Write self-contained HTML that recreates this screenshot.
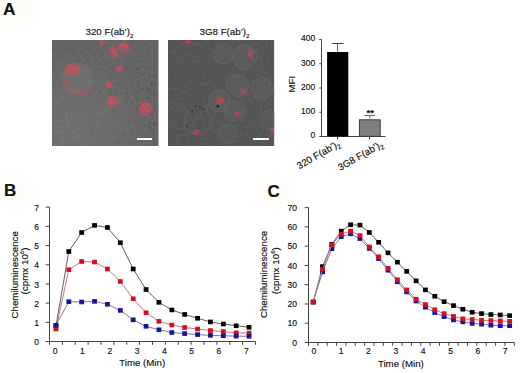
<!DOCTYPE html>
<html><head><meta charset="utf-8"><style>
html,body{margin:0;padding:0;background:#fff;}
svg{display:block;}
text{font-family:"Liberation Sans", sans-serif;fill:#111;stroke:#111;stroke-width:0.15px;}
</style></head><body>
<svg width="520" height="373" viewBox="0 0 520 373">
<rect width="520" height="373" fill="#fff"/>
<defs><filter id="tb" x="-50%" y="-50%" width="200%" height="200%"><feGaussianBlur stdDeviation="4"/></filter></defs>
<rect x="0" y="0" width="34" height="22" fill="#f8f3d6" opacity="0.28" filter="url(#tb)"/>
<rect x="0" y="178" width="30" height="26" fill="#f8f3d6" opacity="0.28" filter="url(#tb)"/>
<rect x="262" y="180" width="26" height="24" fill="#f8f3d6" opacity="0.28" filter="url(#tb)"/>
<text x="3" y="15.2" font-size="17.3" font-weight="bold">A</text>
<text x="4" y="196.3" font-size="17" font-weight="bold">B</text>
<text x="267.6" y="197.2" font-size="17" font-weight="bold">C</text>
<text x="85.5" y="35" font-size="9.75" text-anchor="start">320 F(ab’)<tspan font-size="6.14" dy="2.6">2</tspan></text>
<text x="199.5" y="35" font-size="9.75" text-anchor="start">3G8 F(ab’)<tspan font-size="6.14" dy="2.6">2</tspan></text>
<defs><clipPath id="c1"><rect x="52" y="40" width="106.7" height="106"/></clipPath><clipPath id="c2"><rect x="168" y="40" width="106.4" height="106"/></clipPath><filter id="bl" x="-50%" y="-50%" width="200%" height="200%"><feGaussianBlur stdDeviation="0.5"/></filter><filter id="bl2" x="-50%" y="-50%" width="200%" height="200%"><feGaussianBlur stdDeviation="1.0"/></filter><filter id="nz" x="0" y="0" width="100%" height="100%" color-interpolation-filters="sRGB"><feTurbulence type="fractalNoise" baseFrequency="0.35" numOctaves="2" seed="5"/><feColorMatrix type="matrix" values="1 0 0 0 0  1 0 0 0 0  1 0 0 0 0  0 0 0 0 0.07"/></filter></defs>
<g clip-path="url(#c1)">
<defs><radialGradient id="g1" cx="0.2" cy="0.85" r="0.75"><stop offset="0" stop-color="#6f6f6f"/><stop offset="0.55" stop-color="#6a6a6a"/><stop offset="1" stop-color="#626262"/></radialGradient></defs>
<rect x="52" y="40" width="106.7" height="106" fill="url(#g1)"/>
<rect x="52" y="40" width="106.7" height="106" filter="url(#nz)"/>
<g filter="url(#bl)">
<circle cx="77.5" cy="78.4" r="15.6" fill="#737a74" opacity="0.4"/><circle cx="77.5" cy="78.4" r="15.6" fill="none" stroke="#8a8a8a" stroke-width="1" opacity="0.12"/><circle cx="77.5" cy="78.4" r="14.4" fill="none" stroke="#4a4a4a" stroke-width="0.8" opacity="0.12"/>
<circle cx="114" cy="50" r="13" fill="#6c6c6c" opacity="0.4"/><circle cx="114" cy="50" r="13" fill="none" stroke="#8a8a8a" stroke-width="1" opacity="0.08"/><circle cx="114" cy="50" r="11.8" fill="none" stroke="#4a4a4a" stroke-width="0.8" opacity="0.1"/>
<circle cx="113" cy="100" r="12.5" fill="#6c6c6c" opacity="0.4"/><circle cx="113" cy="100" r="12.5" fill="none" stroke="#8a8a8a" stroke-width="1" opacity="0.08"/><circle cx="113" cy="100" r="11.3" fill="none" stroke="#4a4a4a" stroke-width="0.8" opacity="0.1"/>
<circle cx="146" cy="109" r="13" fill="#6a6a6a" opacity="0.4"/><circle cx="146" cy="109" r="13" fill="none" stroke="#8a8a8a" stroke-width="1" opacity="0.08"/><circle cx="146" cy="109" r="11.8" fill="none" stroke="#4a4a4a" stroke-width="0.8" opacity="0.1"/>
<circle cx="142.45" cy="74.50" r="0.73" fill="#2a2a2a" opacity="0.45"/><circle cx="136.67" cy="98.76" r="0.58" fill="#2a2a2a" opacity="0.45"/><circle cx="136.33" cy="96.97" r="0.42" fill="#2a2a2a" opacity="0.45"/><circle cx="144.97" cy="69.40" r="0.45" fill="#2a2a2a" opacity="0.45"/><circle cx="144.76" cy="117.09" r="0.46" fill="#2a2a2a" opacity="0.45"/><circle cx="140.13" cy="104.53" r="0.87" fill="#2a2a2a" opacity="0.45"/><circle cx="148.27" cy="89.99" r="0.89" fill="#2a2a2a" opacity="0.45"/><circle cx="136.07" cy="119.08" r="0.54" fill="#2a2a2a" opacity="0.45"/><circle cx="138.32" cy="72.42" r="0.55" fill="#2a2a2a" opacity="0.45"/><circle cx="153.77" cy="76.39" r="0.69" fill="#2a2a2a" opacity="0.45"/><circle cx="149.70" cy="88.46" r="0.67" fill="#2a2a2a" opacity="0.45"/><circle cx="136.44" cy="68.75" r="0.50" fill="#2a2a2a" opacity="0.45"/><circle cx="150.65" cy="91.94" r="0.56" fill="#2a2a2a" opacity="0.45"/><circle cx="148.47" cy="93.55" r="0.55" fill="#2a2a2a" opacity="0.45"/><circle cx="153.27" cy="109.04" r="0.52" fill="#2a2a2a" opacity="0.45"/><circle cx="148.21" cy="98.09" r="0.84" fill="#2a2a2a" opacity="0.45"/><circle cx="151.78" cy="83.14" r="0.89" fill="#2a2a2a" opacity="0.45"/><circle cx="137.72" cy="91.34" r="0.78" fill="#2a2a2a" opacity="0.45"/><circle cx="138.50" cy="95.80" r="0.42" fill="#2a2a2a" opacity="0.45"/><circle cx="150.37" cy="113.17" r="0.69" fill="#2a2a2a" opacity="0.45"/><circle cx="155.14" cy="84.77" r="0.75" fill="#2a2a2a" opacity="0.45"/><circle cx="148.67" cy="101.53" r="0.63" fill="#2a2a2a" opacity="0.45"/><circle cx="154.32" cy="124.51" r="0.64" fill="#2a2a2a" opacity="0.45"/><circle cx="150.28" cy="68.82" r="0.75" fill="#2a2a2a" opacity="0.45"/><circle cx="149.88" cy="127.57" r="0.81" fill="#2a2a2a" opacity="0.45"/><circle cx="141.55" cy="89.30" r="0.73" fill="#2a2a2a" opacity="0.45"/><circle cx="135.52" cy="94.09" r="0.48" fill="#2a2a2a" opacity="0.45"/><circle cx="137.69" cy="68.71" r="0.78" fill="#2a2a2a" opacity="0.45"/><circle cx="137.97" cy="80.60" r="0.60" fill="#2a2a2a" opacity="0.45"/><circle cx="155.04" cy="70.08" r="0.62" fill="#2a2a2a" opacity="0.45"/>
<circle cx="116.98" cy="93.59" r="0.81" fill="#2a2a2a" opacity="0.3"/><circle cx="129.56" cy="60.31" r="0.61" fill="#2a2a2a" opacity="0.3"/><circle cx="109.35" cy="93.63" r="0.88" fill="#2a2a2a" opacity="0.3"/><circle cx="101.04" cy="54.69" r="0.52" fill="#2a2a2a" opacity="0.3"/><circle cx="104.33" cy="71.67" r="0.69" fill="#2a2a2a" opacity="0.3"/><circle cx="105.51" cy="45.23" r="0.61" fill="#2a2a2a" opacity="0.3"/><circle cx="109.77" cy="76.15" r="0.88" fill="#2a2a2a" opacity="0.3"/><circle cx="122.62" cy="73.35" r="0.71" fill="#2a2a2a" opacity="0.3"/><circle cx="122.05" cy="47.97" r="0.85" fill="#2a2a2a" opacity="0.3"/><circle cx="126.20" cy="93.10" r="0.80" fill="#2a2a2a" opacity="0.3"/><circle cx="110.70" cy="66.94" r="0.45" fill="#2a2a2a" opacity="0.3"/><circle cx="120.37" cy="48.42" r="0.43" fill="#2a2a2a" opacity="0.3"/><circle cx="103.35" cy="53.93" r="0.57" fill="#2a2a2a" opacity="0.3"/><circle cx="97.10" cy="45.01" r="0.48" fill="#2a2a2a" opacity="0.3"/><circle cx="99.06" cy="65.00" r="0.41" fill="#2a2a2a" opacity="0.3"/><circle cx="129.97" cy="78.77" r="0.47" fill="#2a2a2a" opacity="0.3"/><circle cx="105.09" cy="64.11" r="0.58" fill="#2a2a2a" opacity="0.3"/><circle cx="99.91" cy="91.69" r="0.90" fill="#2a2a2a" opacity="0.3"/><circle cx="113.64" cy="71.61" r="0.44" fill="#2a2a2a" opacity="0.3"/><circle cx="99.09" cy="63.84" r="0.53" fill="#2a2a2a" opacity="0.3"/>
<ellipse cx="72.4" cy="69.8" rx="7.02" ry="5.58" fill="#e04858" opacity="0.41" filter="url(#bl2)"/><circle cx="77.53" cy="65.60" r="0.62" fill="#e04858" opacity="0.44"/><circle cx="79.44" cy="70.15" r="0.73" fill="#e04858" opacity="0.44"/><circle cx="73.07" cy="63.94" r="1.08" fill="#e04858" opacity="0.44"/><circle cx="75.46" cy="66.84" r="0.93" fill="#e04858" opacity="0.44"/><circle cx="67.21" cy="73.17" r="1.08" fill="#e04858" opacity="0.44"/><circle cx="76.75" cy="67.69" r="0.80" fill="#e04858" opacity="0.44"/><circle cx="77.90" cy="73.60" r="1.34" fill="#e04858" opacity="0.44"/><circle cx="76.14" cy="66.41" r="1.07" fill="#e04858" opacity="0.44"/><circle cx="70.15" cy="63.96" r="0.63" fill="#e04858" opacity="0.44"/><circle cx="68.96" cy="66.81" r="1.22" fill="#e04858" opacity="0.44"/><circle cx="79.52" cy="69.15" r="1.44" fill="#e04858" opacity="0.44"/><circle cx="70.29" cy="66.33" r="0.80" fill="#e04858" opacity="0.44"/><circle cx="67.67" cy="66.13" r="1.16" fill="#e04858" opacity="0.44"/><circle cx="72.08" cy="71.70" r="1.32" fill="#e04858" opacity="0.44"/><circle cx="65.92" cy="71.79" r="1.42" fill="#e04858" opacity="0.44"/><circle cx="76.80" cy="72.90" r="1.03" fill="#e04858" opacity="0.44"/><circle cx="67.38" cy="73.39" r="0.90" fill="#e04858" opacity="0.44"/><circle cx="70.78" cy="68.58" r="1.45" fill="#e04858" opacity="0.44"/><circle cx="75.91" cy="65.71" r="0.71" fill="#e04858" opacity="0.44"/><circle cx="77.18" cy="65.41" r="1.34" fill="#e04858" opacity="0.44"/><circle cx="70.07" cy="70.40" r="0.72" fill="#e04858" opacity="0.44"/><circle cx="74.73" cy="70.13" r="1.44" fill="#e04858" opacity="0.44"/><circle cx="71.37" cy="74.41" r="1.34" fill="#e04858" opacity="0.44"/><circle cx="67.89" cy="66.72" r="0.86" fill="#e04858" opacity="0.44"/><circle cx="68.35" cy="70.87" r="0.83" fill="#e04858" opacity="0.44"/><circle cx="71.14" cy="65.23" r="1.42" fill="#e04858" opacity="0.44"/><circle cx="70.12" cy="69.28" r="1.13" fill="#e04858" opacity="0.44"/><circle cx="78.71" cy="68.82" r="1.43" fill="#e04858" opacity="0.44"/><circle cx="72.43" cy="70.19" r="1.07" fill="#e04858" opacity="0.44"/><circle cx="64.89" cy="69.06" r="0.76" fill="#e04858" opacity="0.44"/><circle cx="67.29" cy="69.47" r="1.25" fill="#e04858" opacity="0.44"/><circle cx="73.28" cy="67.64" r="1.07" fill="#e04858" opacity="0.44"/><circle cx="73.26" cy="73.32" r="0.70" fill="#e04858" opacity="0.44"/><circle cx="73.34" cy="66.68" r="0.85" fill="#e04858" opacity="0.44"/><circle cx="76.65" cy="69.90" r="1.11" fill="#e04858" opacity="0.44"/><circle cx="76.46" cy="74.91" r="1.00" fill="#e04858" opacity="0.44"/><circle cx="74.16" cy="69.87" r="1.06" fill="#e04858" opacity="0.44"/><circle cx="75.41" cy="69.21" r="1.08" fill="#e04858" opacity="0.44"/><circle cx="72.06" cy="75.27" r="1.23" fill="#e04858" opacity="0.44"/><circle cx="68.65" cy="70.54" r="1.45" fill="#e04858" opacity="0.44"/><circle cx="77.70" cy="65.30" r="0.71" fill="#e04858" opacity="0.44"/><circle cx="71.50" cy="64.50" r="0.82" fill="#e04858" opacity="0.44"/><circle cx="65.74" cy="71.90" r="1.31" fill="#e04858" opacity="0.44"/><circle cx="75.77" cy="71.79" r="0.73" fill="#e04858" opacity="0.44"/>
<ellipse cx="66" cy="85" rx="1.80" ry="1.44" fill="#e8404c" opacity="0.45" filter="url(#bl2)"/><circle cx="65.59" cy="84.96" r="0.90" fill="#e8404c" opacity="0.48"/><circle cx="67.33" cy="83.92" r="0.73" fill="#e8404c" opacity="0.48"/><circle cx="66.06" cy="84.49" r="0.66" fill="#e8404c" opacity="0.48"/><circle cx="65.27" cy="85.71" r="0.61" fill="#e8404c" opacity="0.48"/>
<ellipse cx="70" cy="89" rx="1.80" ry="1.44" fill="#e8404c" opacity="0.45" filter="url(#bl2)"/><circle cx="70.22" cy="88.81" r="0.61" fill="#e8404c" opacity="0.48"/><circle cx="69.33" cy="89.40" r="0.75" fill="#e8404c" opacity="0.48"/><circle cx="68.42" cy="88.25" r="0.61" fill="#e8404c" opacity="0.48"/><circle cx="71.12" cy="88.27" r="0.64" fill="#e8404c" opacity="0.48"/>
<ellipse cx="75" cy="92" rx="1.80" ry="1.44" fill="#e8404c" opacity="0.45" filter="url(#bl2)"/><circle cx="74.69" cy="93.32" r="0.85" fill="#e8404c" opacity="0.48"/><circle cx="74.03" cy="90.88" r="0.88" fill="#e8404c" opacity="0.48"/><circle cx="75.28" cy="92.64" r="0.63" fill="#e8404c" opacity="0.48"/><circle cx="73.23" cy="92.60" r="0.73" fill="#e8404c" opacity="0.48"/>
<ellipse cx="80" cy="93" rx="1.80" ry="1.44" fill="#e8404c" opacity="0.45" filter="url(#bl2)"/><circle cx="80.54" cy="93.97" r="0.63" fill="#e8404c" opacity="0.48"/><circle cx="81.45" cy="92.85" r="0.70" fill="#e8404c" opacity="0.48"/><circle cx="80.21" cy="94.37" r="0.68" fill="#e8404c" opacity="0.48"/><circle cx="78.52" cy="93.09" r="0.67" fill="#e8404c" opacity="0.48"/>
<ellipse cx="85" cy="91" rx="1.80" ry="1.44" fill="#e8404c" opacity="0.45" filter="url(#bl2)"/><circle cx="84.25" cy="90.38" r="0.83" fill="#e8404c" opacity="0.48"/><circle cx="84.16" cy="91.00" r="0.65" fill="#e8404c" opacity="0.48"/><circle cx="85.93" cy="91.16" r="0.66" fill="#e8404c" opacity="0.48"/><circle cx="84.90" cy="92.39" r="0.63" fill="#e8404c" opacity="0.48"/>
<ellipse cx="89" cy="88" rx="1.80" ry="1.44" fill="#e8404c" opacity="0.45" filter="url(#bl2)"/><circle cx="90.28" cy="87.78" r="0.75" fill="#e8404c" opacity="0.48"/><circle cx="90.34" cy="87.66" r="0.75" fill="#e8404c" opacity="0.48"/><circle cx="88.37" cy="89.06" r="0.81" fill="#e8404c" opacity="0.48"/><circle cx="89.54" cy="87.70" r="0.70" fill="#e8404c" opacity="0.48"/>
<ellipse cx="68" cy="80" rx="1.80" ry="1.44" fill="#e8404c" opacity="0.45" filter="url(#bl2)"/><circle cx="66.28" cy="80.77" r="0.68" fill="#e8404c" opacity="0.48"/><circle cx="68.68" cy="79.30" r="0.67" fill="#e8404c" opacity="0.48"/><circle cx="67.17" cy="79.87" r="0.65" fill="#e8404c" opacity="0.48"/><circle cx="67.78" cy="79.24" r="0.89" fill="#e8404c" opacity="0.48"/>
<ellipse cx="102.4" cy="42.4" rx="2.34" ry="1.98" fill="#e04858" opacity="0.41" filter="url(#bl2)"/><circle cx="104.86" cy="42.61" r="0.80" fill="#e04858" opacity="0.44"/><circle cx="101.78" cy="42.29" r="1.00" fill="#e04858" opacity="0.44"/><circle cx="100.85" cy="42.42" r="0.60" fill="#e04858" opacity="0.44"/><circle cx="101.17" cy="40.59" r="0.92" fill="#e04858" opacity="0.44"/><circle cx="101.38" cy="41.22" r="1.07" fill="#e04858" opacity="0.44"/><circle cx="102.55" cy="43.50" r="1.13" fill="#e04858" opacity="0.44"/><circle cx="103.52" cy="44.07" r="0.91" fill="#e04858" opacity="0.44"/><circle cx="100.58" cy="43.39" r="1.11" fill="#e04858" opacity="0.44"/>
<ellipse cx="113" cy="50.5" rx="3.60" ry="3.42" fill="#e04858" opacity="0.41" filter="url(#bl2)"/><circle cx="116.14" cy="51.47" r="1.19" fill="#e04858" opacity="0.44"/><circle cx="115.50" cy="47.76" r="1.02" fill="#e04858" opacity="0.44"/><circle cx="113.03" cy="53.05" r="1.24" fill="#e04858" opacity="0.44"/><circle cx="115.61" cy="51.14" r="1.31" fill="#e04858" opacity="0.44"/><circle cx="114.46" cy="51.97" r="0.78" fill="#e04858" opacity="0.44"/><circle cx="111.89" cy="47.50" r="1.27" fill="#e04858" opacity="0.44"/><circle cx="113.47" cy="51.47" r="1.10" fill="#e04858" opacity="0.44"/><circle cx="114.45" cy="50.42" r="0.60" fill="#e04858" opacity="0.44"/><circle cx="115.38" cy="52.39" r="1.00" fill="#e04858" opacity="0.44"/><circle cx="113.28" cy="51.71" r="0.65" fill="#e04858" opacity="0.44"/><circle cx="114.89" cy="48.62" r="0.66" fill="#e04858" opacity="0.44"/><circle cx="111.12" cy="52.24" r="0.76" fill="#e04858" opacity="0.44"/><circle cx="112.95" cy="49.61" r="0.98" fill="#e04858" opacity="0.44"/><circle cx="114.47" cy="52.53" r="1.09" fill="#e04858" opacity="0.44"/><circle cx="114.14" cy="47.29" r="0.72" fill="#e04858" opacity="0.44"/><circle cx="111.03" cy="52.35" r="0.84" fill="#e04858" opacity="0.44"/>
<ellipse cx="115.3" cy="55.8" rx="2.16" ry="2.16" fill="#e04858" opacity="0.41" filter="url(#bl2)"/><circle cx="115.63" cy="53.46" r="0.65" fill="#e04858" opacity="0.44"/><circle cx="114.19" cy="56.63" r="1.15" fill="#e04858" opacity="0.44"/><circle cx="116.14" cy="54.80" r="1.01" fill="#e04858" opacity="0.44"/><circle cx="115.13" cy="55.64" r="0.69" fill="#e04858" opacity="0.44"/><circle cx="117.19" cy="54.36" r="1.38" fill="#e04858" opacity="0.44"/><circle cx="115.10" cy="57.34" r="1.37" fill="#e04858" opacity="0.44"/><circle cx="115.06" cy="54.69" r="0.77" fill="#e04858" opacity="0.44"/>
<ellipse cx="123.8" cy="47.5" rx="4.68" ry="4.86" fill="#e04858" opacity="0.41" filter="url(#bl2)"/><circle cx="124.65" cy="43.63" r="1.02" fill="#e04858" opacity="0.44"/><circle cx="127.13" cy="47.59" r="1.31" fill="#e04858" opacity="0.44"/><circle cx="125.91" cy="44.60" r="1.32" fill="#e04858" opacity="0.44"/><circle cx="123.66" cy="42.37" r="0.60" fill="#e04858" opacity="0.44"/><circle cx="123.71" cy="46.97" r="0.84" fill="#e04858" opacity="0.44"/><circle cx="120.06" cy="45.81" r="0.85" fill="#e04858" opacity="0.44"/><circle cx="126.41" cy="51.16" r="0.70" fill="#e04858" opacity="0.44"/><circle cx="128.23" cy="49.80" r="1.32" fill="#e04858" opacity="0.44"/><circle cx="121.61" cy="46.12" r="0.91" fill="#e04858" opacity="0.44"/><circle cx="122.35" cy="46.72" r="0.82" fill="#e04858" opacity="0.44"/><circle cx="127.28" cy="45.18" r="1.35" fill="#e04858" opacity="0.44"/><circle cx="121.19" cy="44.97" r="1.01" fill="#e04858" opacity="0.44"/><circle cx="120.57" cy="46.13" r="1.36" fill="#e04858" opacity="0.44"/><circle cx="127.80" cy="50.87" r="1.10" fill="#e04858" opacity="0.44"/><circle cx="124.31" cy="49.87" r="0.64" fill="#e04858" opacity="0.44"/><circle cx="126.22" cy="46.97" r="1.20" fill="#e04858" opacity="0.44"/><circle cx="125.30" cy="45.19" r="0.64" fill="#e04858" opacity="0.44"/><circle cx="123.51" cy="45.81" r="0.84" fill="#e04858" opacity="0.44"/><circle cx="121.31" cy="49.18" r="0.84" fill="#e04858" opacity="0.44"/><circle cx="124.40" cy="46.36" r="0.73" fill="#e04858" opacity="0.44"/><circle cx="120.28" cy="44.35" r="1.32" fill="#e04858" opacity="0.44"/><circle cx="123.77" cy="44.48" r="1.33" fill="#e04858" opacity="0.44"/>
<ellipse cx="119.3" cy="69" rx="3.06" ry="2.88" fill="#e04858" opacity="0.41" filter="url(#bl2)"/><circle cx="122.68" cy="68.68" r="0.71" fill="#e04858" opacity="0.44"/><circle cx="118.23" cy="66.38" r="0.79" fill="#e04858" opacity="0.44"/><circle cx="117.66" cy="69.45" r="1.31" fill="#e04858" opacity="0.44"/><circle cx="121.00" cy="68.44" r="0.93" fill="#e04858" opacity="0.44"/><circle cx="119.46" cy="68.21" r="0.87" fill="#e04858" opacity="0.44"/><circle cx="116.32" cy="67.58" r="1.37" fill="#e04858" opacity="0.44"/><circle cx="116.76" cy="69.02" r="1.10" fill="#e04858" opacity="0.44"/><circle cx="121.77" cy="67.18" r="0.82" fill="#e04858" opacity="0.44"/><circle cx="117.59" cy="68.36" r="0.96" fill="#e04858" opacity="0.44"/><circle cx="121.99" cy="68.83" r="1.07" fill="#e04858" opacity="0.44"/><circle cx="117.59" cy="66.50" r="0.72" fill="#e04858" opacity="0.44"/><circle cx="119.45" cy="70.17" r="1.35" fill="#e04858" opacity="0.44"/>
<ellipse cx="108.8" cy="84.5" rx="2.88" ry="2.88" fill="#e04858" opacity="0.41" filter="url(#bl2)"/><circle cx="110.22" cy="85.44" r="1.21" fill="#e04858" opacity="0.44"/><circle cx="108.53" cy="84.83" r="0.63" fill="#e04858" opacity="0.44"/><circle cx="110.61" cy="82.79" r="1.34" fill="#e04858" opacity="0.44"/><circle cx="109.73" cy="83.24" r="0.70" fill="#e04858" opacity="0.44"/><circle cx="107.21" cy="85.37" r="1.16" fill="#e04858" opacity="0.44"/><circle cx="108.96" cy="85.03" r="0.91" fill="#e04858" opacity="0.44"/><circle cx="107.03" cy="85.15" r="0.61" fill="#e04858" opacity="0.44"/><circle cx="107.53" cy="84.25" r="1.37" fill="#e04858" opacity="0.44"/><circle cx="109.73" cy="86.96" r="0.98" fill="#e04858" opacity="0.44"/><circle cx="107.10" cy="82.88" r="1.37" fill="#e04858" opacity="0.44"/><circle cx="110.11" cy="83.27" r="0.62" fill="#e04858" opacity="0.44"/>
<ellipse cx="113" cy="101" rx="5.22" ry="4.50" fill="#e04858" opacity="0.41" filter="url(#bl2)"/><circle cx="112.98" cy="102.74" r="0.94" fill="#e04858" opacity="0.44"/><circle cx="110.18" cy="102.67" r="1.34" fill="#e04858" opacity="0.44"/><circle cx="111.12" cy="100.21" r="1.15" fill="#e04858" opacity="0.44"/><circle cx="109.50" cy="103.97" r="1.19" fill="#e04858" opacity="0.44"/><circle cx="113.06" cy="98.05" r="1.38" fill="#e04858" opacity="0.44"/><circle cx="110.82" cy="104.20" r="0.78" fill="#e04858" opacity="0.44"/><circle cx="109.77" cy="103.60" r="0.84" fill="#e04858" opacity="0.44"/><circle cx="118.24" cy="100.96" r="0.75" fill="#e04858" opacity="0.44"/><circle cx="109.79" cy="100.17" r="1.13" fill="#e04858" opacity="0.44"/><circle cx="111.76" cy="98.13" r="1.38" fill="#e04858" opacity="0.44"/><circle cx="107.90" cy="99.93" r="1.32" fill="#e04858" opacity="0.44"/><circle cx="117.45" cy="103.33" r="1.40" fill="#e04858" opacity="0.44"/><circle cx="118.01" cy="99.29" r="0.75" fill="#e04858" opacity="0.44"/><circle cx="107.57" cy="102.64" r="0.90" fill="#e04858" opacity="0.44"/><circle cx="111.54" cy="99.32" r="0.74" fill="#e04858" opacity="0.44"/><circle cx="111.28" cy="105.56" r="0.70" fill="#e04858" opacity="0.44"/><circle cx="111.34" cy="104.22" r="1.26" fill="#e04858" opacity="0.44"/><circle cx="112.22" cy="96.49" r="0.98" fill="#e04858" opacity="0.44"/><circle cx="111.52" cy="105.20" r="0.75" fill="#e04858" opacity="0.44"/><circle cx="111.43" cy="104.97" r="0.62" fill="#e04858" opacity="0.44"/><circle cx="111.97" cy="104.12" r="1.21" fill="#e04858" opacity="0.44"/><circle cx="110.18" cy="103.47" r="1.32" fill="#e04858" opacity="0.44"/><circle cx="111.13" cy="98.72" r="1.37" fill="#e04858" opacity="0.44"/><circle cx="114.36" cy="98.62" r="1.17" fill="#e04858" opacity="0.44"/><circle cx="110.87" cy="98.76" r="0.60" fill="#e04858" opacity="0.44"/><circle cx="115.97" cy="105.16" r="1.11" fill="#e04858" opacity="0.44"/><circle cx="109.91" cy="100.75" r="1.37" fill="#e04858" opacity="0.44"/><circle cx="118.27" cy="99.87" r="0.80" fill="#e04858" opacity="0.44"/>
<ellipse cx="145.7" cy="108.5" rx="6.12" ry="6.48" fill="#e04858" opacity="0.41" filter="url(#bl2)"/><circle cx="144.75" cy="108.41" r="1.34" fill="#e04858" opacity="0.44"/><circle cx="141.39" cy="112.86" r="1.19" fill="#e04858" opacity="0.44"/><circle cx="150.09" cy="112.43" r="1.09" fill="#e04858" opacity="0.44"/><circle cx="143.36" cy="105.90" r="0.89" fill="#e04858" opacity="0.44"/><circle cx="141.58" cy="112.14" r="0.80" fill="#e04858" opacity="0.44"/><circle cx="146.42" cy="105.99" r="1.38" fill="#e04858" opacity="0.44"/><circle cx="142.50" cy="102.51" r="0.68" fill="#e04858" opacity="0.44"/><circle cx="145.68" cy="111.52" r="0.96" fill="#e04858" opacity="0.44"/><circle cx="142.09" cy="107.30" r="1.10" fill="#e04858" opacity="0.44"/><circle cx="148.07" cy="112.07" r="1.28" fill="#e04858" opacity="0.44"/><circle cx="147.94" cy="103.04" r="1.27" fill="#e04858" opacity="0.44"/><circle cx="142.90" cy="109.46" r="0.90" fill="#e04858" opacity="0.44"/><circle cx="148.94" cy="104.17" r="0.80" fill="#e04858" opacity="0.44"/><circle cx="142.24" cy="103.51" r="1.31" fill="#e04858" opacity="0.44"/><circle cx="146.76" cy="106.00" r="0.92" fill="#e04858" opacity="0.44"/><circle cx="152.40" cy="108.61" r="0.79" fill="#e04858" opacity="0.44"/><circle cx="149.89" cy="110.71" r="1.39" fill="#e04858" opacity="0.44"/><circle cx="140.29" cy="108.14" r="1.26" fill="#e04858" opacity="0.44"/><circle cx="140.52" cy="104.03" r="1.38" fill="#e04858" opacity="0.44"/><circle cx="146.83" cy="114.69" r="0.90" fill="#e04858" opacity="0.44"/><circle cx="150.68" cy="107.77" r="0.81" fill="#e04858" opacity="0.44"/><circle cx="140.34" cy="109.88" r="1.10" fill="#e04858" opacity="0.44"/><circle cx="141.86" cy="106.61" r="0.71" fill="#e04858" opacity="0.44"/><circle cx="141.67" cy="104.97" r="1.08" fill="#e04858" opacity="0.44"/><circle cx="147.76" cy="104.23" r="0.61" fill="#e04858" opacity="0.44"/><circle cx="143.35" cy="111.07" r="0.75" fill="#e04858" opacity="0.44"/><circle cx="143.15" cy="104.23" r="1.24" fill="#e04858" opacity="0.44"/><circle cx="146.35" cy="102.21" r="0.68" fill="#e04858" opacity="0.44"/><circle cx="144.28" cy="109.22" r="1.11" fill="#e04858" opacity="0.44"/><circle cx="148.36" cy="107.20" r="0.83" fill="#e04858" opacity="0.44"/><circle cx="143.08" cy="115.03" r="0.85" fill="#e04858" opacity="0.44"/><circle cx="146.60" cy="106.44" r="0.93" fill="#e04858" opacity="0.44"/><circle cx="143.85" cy="104.14" r="1.18" fill="#e04858" opacity="0.44"/><circle cx="151.16" cy="107.40" r="1.26" fill="#e04858" opacity="0.44"/><circle cx="144.42" cy="114.01" r="0.97" fill="#e04858" opacity="0.44"/><circle cx="146.40" cy="110.53" r="1.33" fill="#e04858" opacity="0.44"/>
</g>
<rect x="137" y="138" width="15" height="2" fill="#fff"/>
</g>
<g clip-path="url(#c2)">
<rect x="168" y="40" width="106.4" height="106" fill="#535353"/>
<rect x="168" y="40" width="106.4" height="106" filter="url(#nz)"/>
<g filter="url(#bl)">
<circle cx="223.4" cy="54.2" r="9.975" fill="#6a6a6a" opacity="0.315"/><circle cx="223.4" cy="54.2" r="9.975" fill="none" stroke="#8a8a8a" stroke-width="1" opacity="0.2"/><circle cx="223.4" cy="54.2" r="8.775" fill="none" stroke="#4a4a4a" stroke-width="0.8" opacity="0.2"/>
<circle cx="244.7" cy="57" r="12.16" fill="#6a6a6a" opacity="0.36000000000000004"/><circle cx="244.7" cy="57" r="12.16" fill="none" stroke="#8a8a8a" stroke-width="1" opacity="0.2"/><circle cx="244.7" cy="57" r="10.96" fill="none" stroke="#4a4a4a" stroke-width="0.8" opacity="0.2"/>
<circle cx="237.6" cy="85.5" r="10.83" fill="#6a6a6a" opacity="0.36000000000000004"/><circle cx="237.6" cy="85.5" r="10.83" fill="none" stroke="#8a8a8a" stroke-width="1" opacity="0.2"/><circle cx="237.6" cy="85.5" r="9.63" fill="none" stroke="#4a4a4a" stroke-width="0.8" opacity="0.2"/>
<circle cx="261.8" cy="88.3" r="10.83" fill="#686868" opacity="0.315"/><circle cx="261.8" cy="88.3" r="10.83" fill="none" stroke="#8a8a8a" stroke-width="1" opacity="0.2"/><circle cx="261.8" cy="88.3" r="9.63" fill="none" stroke="#4a4a4a" stroke-width="0.8" opacity="0.2"/>
<circle cx="219.2" cy="101" r="10.83" fill="#666a6a" opacity="0.36000000000000004"/><circle cx="219.2" cy="101" r="10.83" fill="none" stroke="#8a8a8a" stroke-width="1" opacity="0.2"/><circle cx="219.2" cy="101" r="9.63" fill="none" stroke="#4a4a4a" stroke-width="0.8" opacity="0.2"/>
<circle cx="234.8" cy="111" r="10.26" fill="#6a6a6a" opacity="0.36000000000000004"/><circle cx="234.8" cy="111" r="10.26" fill="none" stroke="#8a8a8a" stroke-width="1" opacity="0.2"/><circle cx="234.8" cy="111" r="9.06" fill="none" stroke="#4a4a4a" stroke-width="0.8" opacity="0.2"/>
<circle cx="197.8" cy="121" r="13.299999999999999" fill="#585858" opacity="0.36000000000000004"/><circle cx="197.8" cy="121" r="13.299999999999999" fill="none" stroke="#8a8a8a" stroke-width="1" opacity="0.2"/><circle cx="197.8" cy="121" r="12.1" fill="none" stroke="#4a4a4a" stroke-width="0.8" opacity="0.2"/>
<circle cx="227.7" cy="134" r="9.5" fill="#646464" opacity="0.27"/><circle cx="227.7" cy="134" r="9.5" fill="none" stroke="#8a8a8a" stroke-width="1" opacity="0.2"/><circle cx="227.7" cy="134" r="8.3" fill="none" stroke="#4a4a4a" stroke-width="0.8" opacity="0.2"/>
<circle cx="270" cy="120" r="9.5" fill="#646464" opacity="0.225"/><circle cx="270" cy="120" r="9.5" fill="none" stroke="#8a8a8a" stroke-width="1" opacity="0.2"/><circle cx="270" cy="120" r="8.3" fill="none" stroke="#4a4a4a" stroke-width="0.8" opacity="0.2"/>
<circle cx="189.78" cy="122.44" r="0.59" fill="#222" opacity="0.4"/><circle cx="198.09" cy="112.92" r="0.54" fill="#222" opacity="0.4"/><circle cx="198.42" cy="128.51" r="0.45" fill="#222" opacity="0.4"/><circle cx="197.81" cy="126.10" r="0.88" fill="#222" opacity="0.4"/><circle cx="191.95" cy="112.53" r="0.87" fill="#222" opacity="0.4"/><circle cx="207.51" cy="119.65" r="0.43" fill="#222" opacity="0.4"/><circle cx="206.52" cy="117.76" r="0.85" fill="#222" opacity="0.4"/><circle cx="200.41" cy="126.49" r="0.48" fill="#222" opacity="0.4"/><circle cx="203.72" cy="114.44" r="0.60" fill="#222" opacity="0.4"/><circle cx="204.93" cy="126.58" r="0.49" fill="#222" opacity="0.4"/><circle cx="192.36" cy="117.99" r="0.66" fill="#222" opacity="0.4"/><circle cx="195.67" cy="112.46" r="0.52" fill="#222" opacity="0.4"/><circle cx="202.50" cy="127.95" r="0.42" fill="#222" opacity="0.4"/><circle cx="199.25" cy="125.15" r="0.42" fill="#222" opacity="0.4"/><circle cx="204.76" cy="112.35" r="0.70" fill="#222" opacity="0.4"/><circle cx="199.00" cy="122.54" r="0.55" fill="#222" opacity="0.4"/>
<circle cx="196" cy="106.5" r="1.3" fill="#2a2a2a" opacity="0.5"/>
<circle cx="200" cy="107.5" r="1.3" fill="#2a2a2a" opacity="0.5"/>
<circle cx="203" cy="109" r="1.3" fill="#2a2a2a" opacity="0.5"/>
<circle cx="192" cy="111" r="1.3" fill="#2a2a2a" opacity="0.5"/>
<circle cx="187" cy="126" r="1.3" fill="#2a2a2a" opacity="0.5"/>
<circle cx="182.60" cy="95.39" r="0.61" fill="#2a2a2a" opacity="0.3"/><circle cx="189.77" cy="90.64" r="0.62" fill="#2a2a2a" opacity="0.3"/><circle cx="170.70" cy="96.66" r="0.64" fill="#2a2a2a" opacity="0.3"/><circle cx="177.06" cy="101.72" r="0.79" fill="#2a2a2a" opacity="0.3"/><circle cx="183.75" cy="81.28" r="0.64" fill="#2a2a2a" opacity="0.3"/><circle cx="173.21" cy="79.50" r="0.62" fill="#2a2a2a" opacity="0.3"/><circle cx="172.75" cy="90.47" r="0.66" fill="#2a2a2a" opacity="0.3"/><circle cx="171.22" cy="97.28" r="0.44" fill="#2a2a2a" opacity="0.3"/><circle cx="192.00" cy="102.22" r="0.66" fill="#2a2a2a" opacity="0.3"/><circle cx="171.63" cy="92.64" r="0.59" fill="#2a2a2a" opacity="0.3"/><circle cx="198.53" cy="79.77" r="0.83" fill="#2a2a2a" opacity="0.3"/><circle cx="199.88" cy="100.62" r="0.81" fill="#2a2a2a" opacity="0.3"/><circle cx="175.81" cy="109.36" r="0.65" fill="#2a2a2a" opacity="0.3"/><circle cx="198.70" cy="107.06" r="0.48" fill="#2a2a2a" opacity="0.3"/><circle cx="193.65" cy="107.57" r="0.43" fill="#2a2a2a" opacity="0.3"/><circle cx="180.53" cy="101.47" r="0.48" fill="#2a2a2a" opacity="0.3"/><circle cx="196.90" cy="84.62" r="0.81" fill="#2a2a2a" opacity="0.3"/><circle cx="174.31" cy="92.58" r="0.86" fill="#2a2a2a" opacity="0.3"/><circle cx="176.25" cy="84.20" r="0.65" fill="#2a2a2a" opacity="0.3"/><circle cx="179.57" cy="76.29" r="0.49" fill="#2a2a2a" opacity="0.3"/>
<ellipse cx="187.9" cy="42.3" rx="3.42" ry="1.44" fill="#e8404c" opacity="0.32" filter="url(#bl2)"/><circle cx="189.27" cy="43.57" r="0.73" fill="#e8404c" opacity="0.34"/><circle cx="190.07" cy="41.07" r="1.02" fill="#e8404c" opacity="0.34"/><circle cx="188.94" cy="41.85" r="1.30" fill="#e8404c" opacity="0.34"/><circle cx="188.32" cy="42.56" r="1.31" fill="#e8404c" opacity="0.34"/><circle cx="188.89" cy="41.96" r="1.24" fill="#e8404c" opacity="0.34"/><circle cx="188.49" cy="41.85" r="1.21" fill="#e8404c" opacity="0.34"/><circle cx="187.46" cy="41.27" r="1.19" fill="#e8404c" opacity="0.34"/><circle cx="186.03" cy="42.75" r="1.39" fill="#e8404c" opacity="0.34"/>
<ellipse cx="250.4" cy="54.2" rx="2.52" ry="3.60" fill="#e8404c" opacity="0.32" filter="url(#bl2)"/><circle cx="250.88" cy="55.51" r="0.85" fill="#e8404c" opacity="0.34"/><circle cx="248.44" cy="55.13" r="0.95" fill="#e8404c" opacity="0.34"/><circle cx="250.47" cy="57.36" r="0.71" fill="#e8404c" opacity="0.34"/><circle cx="248.87" cy="55.42" r="0.62" fill="#e8404c" opacity="0.34"/><circle cx="248.20" cy="53.06" r="0.78" fill="#e8404c" opacity="0.34"/><circle cx="250.87" cy="54.91" r="0.76" fill="#e8404c" opacity="0.34"/><circle cx="251.09" cy="54.00" r="0.71" fill="#e8404c" opacity="0.34"/><circle cx="251.17" cy="57.17" r="1.23" fill="#e8404c" opacity="0.34"/><circle cx="249.85" cy="52.31" r="0.61" fill="#e8404c" opacity="0.34"/><circle cx="251.21" cy="54.70" r="0.88" fill="#e8404c" opacity="0.34"/><circle cx="251.22" cy="53.75" r="1.35" fill="#e8404c" opacity="0.34"/><circle cx="251.71" cy="52.19" r="1.32" fill="#e8404c" opacity="0.34"/>
<ellipse cx="243.3" cy="91.2" rx="2.52" ry="2.52" fill="#e8404c" opacity="0.32" filter="url(#bl2)"/><circle cx="240.75" cy="91.38" r="0.92" fill="#e8404c" opacity="0.34"/><circle cx="243.59" cy="93.67" r="0.71" fill="#e8404c" opacity="0.34"/><circle cx="241.62" cy="91.81" r="1.01" fill="#e8404c" opacity="0.34"/><circle cx="244.09" cy="92.95" r="0.74" fill="#e8404c" opacity="0.34"/><circle cx="242.23" cy="90.08" r="0.64" fill="#e8404c" opacity="0.34"/><circle cx="245.48" cy="92.78" r="1.17" fill="#e8404c" opacity="0.34"/><circle cx="244.67" cy="91.01" r="1.19" fill="#e8404c" opacity="0.34"/><circle cx="243.03" cy="89.67" r="0.68" fill="#e8404c" opacity="0.34"/><circle cx="242.38" cy="92.60" r="1.16" fill="#e8404c" opacity="0.34"/><circle cx="245.23" cy="92.39" r="0.81" fill="#e8404c" opacity="0.34"/>
<ellipse cx="220" cy="100.5" rx="3.42" ry="3.06" fill="#e8404c" opacity="0.32" filter="url(#bl2)"/><circle cx="220.41" cy="100.07" r="1.23" fill="#e8404c" opacity="0.34"/><circle cx="220.18" cy="98.90" r="1.11" fill="#e8404c" opacity="0.34"/><circle cx="218.18" cy="98.71" r="1.20" fill="#e8404c" opacity="0.34"/><circle cx="218.68" cy="103.09" r="0.86" fill="#e8404c" opacity="0.34"/><circle cx="218.02" cy="103.27" r="1.10" fill="#e8404c" opacity="0.34"/><circle cx="221.47" cy="101.62" r="1.38" fill="#e8404c" opacity="0.34"/><circle cx="219.77" cy="102.81" r="1.16" fill="#e8404c" opacity="0.34"/><circle cx="222.72" cy="100.07" r="1.18" fill="#e8404c" opacity="0.34"/><circle cx="220.53" cy="99.19" r="0.77" fill="#e8404c" opacity="0.34"/><circle cx="220.93" cy="97.63" r="1.33" fill="#e8404c" opacity="0.34"/><circle cx="218.82" cy="98.06" r="0.62" fill="#e8404c" opacity="0.34"/><circle cx="216.52" cy="101.81" r="1.11" fill="#e8404c" opacity="0.34"/><circle cx="221.50" cy="102.11" r="0.65" fill="#e8404c" opacity="0.34"/><circle cx="220.69" cy="99.57" r="1.25" fill="#e8404c" opacity="0.34"/><circle cx="217.01" cy="98.50" r="0.69" fill="#e8404c" opacity="0.34"/><circle cx="222.37" cy="101.41" r="1.26" fill="#e8404c" opacity="0.34"/>
<ellipse cx="237" cy="114.5" rx="2.07" ry="2.52" fill="#e8404c" opacity="0.32" filter="url(#bl2)"/><circle cx="237.61" cy="113.31" r="0.68" fill="#e8404c" opacity="0.34"/><circle cx="235.15" cy="115.94" r="0.76" fill="#e8404c" opacity="0.34"/><circle cx="236.17" cy="114.07" r="0.62" fill="#e8404c" opacity="0.34"/><circle cx="235.88" cy="113.28" r="1.17" fill="#e8404c" opacity="0.34"/><circle cx="236.39" cy="113.50" r="1.37" fill="#e8404c" opacity="0.34"/><circle cx="237.02" cy="116.47" r="1.09" fill="#e8404c" opacity="0.34"/><circle cx="234.84" cy="114.01" r="0.95" fill="#e8404c" opacity="0.34"/><circle cx="238.26" cy="113.64" r="1.16" fill="#e8404c" opacity="0.34"/>
<ellipse cx="196.4" cy="132.4" rx="2.70" ry="2.70" fill="#e8404c" opacity="0.32" filter="url(#bl2)"/><circle cx="196.63" cy="130.70" r="1.29" fill="#e8404c" opacity="0.34"/><circle cx="194.61" cy="133.97" r="1.38" fill="#e8404c" opacity="0.34"/><circle cx="193.43" cy="132.34" r="0.99" fill="#e8404c" opacity="0.34"/><circle cx="198.18" cy="130.51" r="1.00" fill="#e8404c" opacity="0.34"/><circle cx="195.48" cy="134.39" r="0.81" fill="#e8404c" opacity="0.34"/><circle cx="199.06" cy="131.10" r="0.77" fill="#e8404c" opacity="0.34"/><circle cx="197.60" cy="132.39" r="0.69" fill="#e8404c" opacity="0.34"/><circle cx="197.22" cy="129.89" r="1.23" fill="#e8404c" opacity="0.34"/><circle cx="197.58" cy="134.12" r="1.10" fill="#e8404c" opacity="0.34"/><circle cx="195.53" cy="131.81" r="0.92" fill="#e8404c" opacity="0.34"/>
<ellipse cx="272.6" cy="131.5" rx="1.62" ry="4.05" fill="#e8404c" opacity="0.32" filter="url(#bl2)"/><circle cx="271.54" cy="129.37" r="1.32" fill="#e8404c" opacity="0.34"/><circle cx="272.60" cy="130.41" r="1.31" fill="#e8404c" opacity="0.34"/><circle cx="271.64" cy="131.15" r="1.03" fill="#e8404c" opacity="0.34"/><circle cx="273.52" cy="133.78" r="1.12" fill="#e8404c" opacity="0.34"/><circle cx="272.05" cy="129.94" r="0.72" fill="#e8404c" opacity="0.34"/><circle cx="273.84" cy="132.96" r="1.19" fill="#e8404c" opacity="0.34"/><circle cx="271.41" cy="130.95" r="1.22" fill="#e8404c" opacity="0.34"/><circle cx="272.89" cy="128.13" r="0.97" fill="#e8404c" opacity="0.34"/>
<circle cx="217.7" cy="106.2" r="1.1" fill="#111"/>
</g>
<rect x="253" y="138" width="16" height="2" fill="#fff"/>
</g>
<g stroke="#444" stroke-width="1" fill="none">
<line x1="321.5" y1="39.5" x2="321.5" y2="137"/>
<line x1="321.0" y1="136.5" x2="385.5" y2="136.5"/>
<line x1="319.3" y1="136.5" x2="321.5" y2="136.5"/>
<line x1="319.3" y1="112.25" x2="321.5" y2="112.25"/>
<line x1="319.3" y1="88" x2="321.5" y2="88"/>
<line x1="319.3" y1="63.75" x2="321.5" y2="63.75"/>
<line x1="319.3" y1="39.5" x2="321.5" y2="39.5"/>
<line x1="337.5" y1="136.5" x2="337.5" y2="139.3"/>
<line x1="369.5" y1="136.5" x2="369.5" y2="139.3"/>
</g>
<text x="315.3" y="138.3" font-size="8.5" text-anchor="end">0</text>
<text x="315.3" y="114.05" font-size="8.5" text-anchor="end">100</text>
<text x="315.3" y="89.8" font-size="8.5" text-anchor="end">200</text>
<text x="315.3" y="65.55" font-size="8.5" text-anchor="end">300</text>
<text x="315.3" y="41.3" font-size="8.5" text-anchor="end">400</text>
<rect x="327.1" y="52" width="21.2" height="84.5" fill="#000"/>
<line x1="337.6" y1="52" x2="337.6" y2="43.5" stroke="#555" stroke-width="1"/>
<line x1="332" y1="43.5" x2="343.6" y2="43.5" stroke="#444" stroke-width="1"/>
<rect x="359.4" y="119.8" width="20.8" height="16.5" fill="#7e7e7e" stroke="#333" stroke-width="0.9"/>
<line x1="369.8" y1="119.5" x2="369.8" y2="115.5" stroke="#777" stroke-width="1"/>
<line x1="364.5" y1="115.5" x2="375" y2="115.5" stroke="#666" stroke-width="1"/>
<text x="370.3" y="115.6" font-size="9.5" font-weight="bold" text-anchor="middle">**</text>
<text transform="translate(294.8 84.2) rotate(-90)" font-size="9.6" text-anchor="middle">MFI</text>
<text transform="translate(340.6 145.6) rotate(-30)" font-size="9.7" text-anchor="end">320 F(ab’)<tspan font-size="6.5" dy="2.4">2</tspan></text>
<text transform="translate(383.6 146) rotate(-30)" font-size="9.7" text-anchor="end">3G8 F(ab’)<tspan font-size="6.5" dy="2.4">2</tspan></text>
<g stroke="#444" stroke-width="1" fill="none">
<line x1="49.5" y1="207.17" x2="49.5" y2="341.5"/>
<line x1="49.0" y1="341.5" x2="255.5" y2="341.5"/>
<line x1="45.7" y1="341.5" x2="49.5" y2="341.5"/>
<line x1="45.7" y1="322.31" x2="49.5" y2="322.31"/>
<line x1="45.7" y1="303.12" x2="49.5" y2="303.12"/>
<line x1="45.7" y1="283.93" x2="49.5" y2="283.93"/>
<line x1="45.7" y1="264.74" x2="49.5" y2="264.74"/>
<line x1="45.7" y1="245.55" x2="49.5" y2="245.55"/>
<line x1="45.7" y1="226.36" x2="49.5" y2="226.36"/>
<line x1="45.7" y1="207.17" x2="49.5" y2="207.17"/>
<line x1="49.5" y1="341.5" x2="49.5" y2="344.8"/>
<line x1="62.38" y1="341.5" x2="62.38" y2="344.8"/>
<line x1="75.25" y1="341.5" x2="75.25" y2="344.8"/>
<line x1="88.12" y1="341.5" x2="88.12" y2="344.8"/>
<line x1="101" y1="341.5" x2="101" y2="344.8"/>
<line x1="113.88" y1="341.5" x2="113.88" y2="344.8"/>
<line x1="126.75" y1="341.5" x2="126.75" y2="344.8"/>
<line x1="139.62" y1="341.5" x2="139.62" y2="344.8"/>
<line x1="152.5" y1="341.5" x2="152.5" y2="344.8"/>
<line x1="165.38" y1="341.5" x2="165.38" y2="344.8"/>
<line x1="178.25" y1="341.5" x2="178.25" y2="344.8"/>
<line x1="191.12" y1="341.5" x2="191.12" y2="344.8"/>
<line x1="204" y1="341.5" x2="204" y2="344.8"/>
<line x1="216.88" y1="341.5" x2="216.88" y2="344.8"/>
<line x1="229.75" y1="341.5" x2="229.75" y2="344.8"/>
<line x1="242.62" y1="341.5" x2="242.62" y2="344.8"/>
<line x1="255.5" y1="341.5" x2="255.5" y2="344.8"/>
</g>
<text x="39" y="345.1" font-size="8.6" text-anchor="end">0</text>
<text x="39" y="325.91" font-size="8.6" text-anchor="end">1</text>
<text x="39" y="306.72" font-size="8.6" text-anchor="end">2</text>
<text x="39" y="287.53" font-size="8.6" text-anchor="end">3</text>
<text x="39" y="268.34" font-size="8.6" text-anchor="end">4</text>
<text x="39" y="249.15" font-size="8.6" text-anchor="end">5</text>
<text x="39" y="229.96" font-size="8.6" text-anchor="end">6</text>
<text x="39" y="210.77" font-size="8.6" text-anchor="end">7</text>
<text x="55.2" y="353.5" font-size="8.6" text-anchor="middle">0</text>
<text x="82.5" y="353.5" font-size="8.6" text-anchor="middle">1</text>
<text x="109.8" y="353.5" font-size="8.6" text-anchor="middle">2</text>
<text x="137.1" y="353.5" font-size="8.6" text-anchor="middle">3</text>
<text x="164.4" y="353.5" font-size="8.6" text-anchor="middle">4</text>
<text x="191.7" y="353.5" font-size="8.6" text-anchor="middle">5</text>
<text x="219" y="353.5" font-size="8.6" text-anchor="middle">6</text>
<text x="246.3" y="353.5" font-size="8.6" text-anchor="middle">7</text>
<polyline points="55.94,326.15 68.81,251.5 81.69,232.5 94.56,225.4 107.44,227.51 120.31,242.67 133.19,268.96 146.06,289.5 158.94,302.35 171.81,309.93 184.69,314.44 197.56,318.28 210.44,321.93 223.31,324.04 236.19,325.76 249.06,327.3" fill="none" stroke="#606060" stroke-width="1"/>
<rect x="53.54" y="323.85" width="4.8" height="4.6" fill="#000"/>
<rect x="66.41" y="249.2" width="4.8" height="4.6" fill="#000"/>
<rect x="79.29" y="230.2" width="4.8" height="4.6" fill="#000"/>
<rect x="92.16" y="223.1" width="4.8" height="4.6" fill="#000"/>
<rect x="105.04" y="225.21" width="4.8" height="4.6" fill="#000"/>
<rect x="117.91" y="240.37" width="4.8" height="4.6" fill="#000"/>
<rect x="130.79" y="266.66" width="4.8" height="4.6" fill="#000"/>
<rect x="143.66" y="287.2" width="4.8" height="4.6" fill="#000"/>
<rect x="156.54" y="300.05" width="4.8" height="4.6" fill="#000"/>
<rect x="169.41" y="307.63" width="4.8" height="4.6" fill="#000"/>
<rect x="182.29" y="312.14" width="4.8" height="4.6" fill="#000"/>
<rect x="195.16" y="315.98" width="4.8" height="4.6" fill="#000"/>
<rect x="208.04" y="319.63" width="4.8" height="4.6" fill="#000"/>
<rect x="220.91" y="321.74" width="4.8" height="4.6" fill="#000"/>
<rect x="233.79" y="323.46" width="4.8" height="4.6" fill="#000"/>
<rect x="246.66" y="325" width="4.8" height="4.6" fill="#000"/>
<polyline points="55.94,329.03 68.81,269.73 81.69,261.48 94.56,262.05 107.44,268.96 120.31,281.44 133.19,298.71 146.06,312.71 158.94,321.35 171.81,325 184.69,327.49 197.56,329.03 210.44,330.56 223.31,331.52 236.19,332.86 249.06,333.06" fill="none" stroke="#b88088" stroke-width="1"/>
<rect x="53.54" y="326.73" width="4.8" height="4.6" fill="#da0c20"/>
<rect x="66.41" y="267.43" width="4.8" height="4.6" fill="#da0c20"/>
<rect x="79.29" y="259.18" width="4.8" height="4.6" fill="#da0c20"/>
<rect x="92.16" y="259.75" width="4.8" height="4.6" fill="#da0c20"/>
<rect x="105.04" y="266.66" width="4.8" height="4.6" fill="#da0c20"/>
<rect x="117.91" y="279.14" width="4.8" height="4.6" fill="#da0c20"/>
<rect x="130.79" y="296.41" width="4.8" height="4.6" fill="#da0c20"/>
<rect x="143.66" y="310.41" width="4.8" height="4.6" fill="#da0c20"/>
<rect x="156.54" y="319.05" width="4.8" height="4.6" fill="#da0c20"/>
<rect x="169.41" y="322.7" width="4.8" height="4.6" fill="#da0c20"/>
<rect x="182.29" y="325.19" width="4.8" height="4.6" fill="#da0c20"/>
<rect x="195.16" y="326.73" width="4.8" height="4.6" fill="#da0c20"/>
<rect x="208.04" y="328.26" width="4.8" height="4.6" fill="#da0c20"/>
<rect x="220.91" y="329.22" width="4.8" height="4.6" fill="#da0c20"/>
<rect x="233.79" y="330.56" width="4.8" height="4.6" fill="#da0c20"/>
<rect x="246.66" y="330.76" width="4.8" height="4.6" fill="#da0c20"/>
<polyline points="55.94,325.19 68.81,301.68 81.69,301.97 94.56,301.39 107.44,304.27 120.31,310.41 133.19,319.82 146.06,326.34 158.94,329.79 171.81,332.48 184.69,333.63 197.56,334.59 210.44,335.36 223.31,335.74 236.19,336.13 249.06,336.32" fill="none" stroke="#7c7ca4" stroke-width="1"/>
<rect x="53.54" y="322.89" width="4.8" height="4.6" fill="#1c129a"/>
<rect x="66.41" y="299.38" width="4.8" height="4.6" fill="#1c129a"/>
<rect x="79.29" y="299.67" width="4.8" height="4.6" fill="#1c129a"/>
<rect x="92.16" y="299.09" width="4.8" height="4.6" fill="#1c129a"/>
<rect x="105.04" y="301.97" width="4.8" height="4.6" fill="#1c129a"/>
<rect x="117.91" y="308.11" width="4.8" height="4.6" fill="#1c129a"/>
<rect x="130.79" y="317.52" width="4.8" height="4.6" fill="#1c129a"/>
<rect x="143.66" y="324.04" width="4.8" height="4.6" fill="#1c129a"/>
<rect x="156.54" y="327.49" width="4.8" height="4.6" fill="#1c129a"/>
<rect x="169.41" y="330.18" width="4.8" height="4.6" fill="#1c129a"/>
<rect x="182.29" y="331.33" width="4.8" height="4.6" fill="#1c129a"/>
<rect x="195.16" y="332.29" width="4.8" height="4.6" fill="#1c129a"/>
<rect x="208.04" y="333.06" width="4.8" height="4.6" fill="#1c129a"/>
<rect x="220.91" y="333.44" width="4.8" height="4.6" fill="#1c129a"/>
<rect x="233.79" y="333.83" width="4.8" height="4.6" fill="#1c129a"/>
<rect x="246.66" y="334.02" width="4.8" height="4.6" fill="#1c129a"/>
<text transform="translate(18.2 274.8) rotate(-90)" font-size="9.7" text-anchor="middle">Chemiluminescence</text>
<text transform="translate(27.7 271.0) rotate(-90)" font-size="9.8" text-anchor="middle">(cpmx 10<tspan font-size="6" dy="-3.5">6</tspan><tspan dy="3.5">)</tspan></text>
<text x="119.2" y="366.3" font-size="9.7">Time (Min)</text>
<g stroke="#444" stroke-width="1" fill="none">
<line x1="308.5" y1="207.61" x2="308.5" y2="342.5"/>
<line x1="308.0" y1="342.5" x2="514.3" y2="342.5"/>
<line x1="304.7" y1="342.5" x2="308.5" y2="342.5"/>
<line x1="304.7" y1="323.23" x2="308.5" y2="323.23"/>
<line x1="304.7" y1="303.96" x2="308.5" y2="303.96"/>
<line x1="304.7" y1="284.69" x2="308.5" y2="284.69"/>
<line x1="304.7" y1="265.42" x2="308.5" y2="265.42"/>
<line x1="304.7" y1="246.15" x2="308.5" y2="246.15"/>
<line x1="304.7" y1="226.88" x2="308.5" y2="226.88"/>
<line x1="304.7" y1="207.61" x2="308.5" y2="207.61"/>
<line x1="308.5" y1="342.5" x2="308.5" y2="345.8"/>
<line x1="317.85" y1="342.5" x2="317.85" y2="345.8"/>
<line x1="327.21" y1="342.5" x2="327.21" y2="345.8"/>
<line x1="336.56" y1="342.5" x2="336.56" y2="345.8"/>
<line x1="345.92" y1="342.5" x2="345.92" y2="345.8"/>
<line x1="355.27" y1="342.5" x2="355.27" y2="345.8"/>
<line x1="364.63" y1="342.5" x2="364.63" y2="345.8"/>
<line x1="373.98" y1="342.5" x2="373.98" y2="345.8"/>
<line x1="383.34" y1="342.5" x2="383.34" y2="345.8"/>
<line x1="392.69" y1="342.5" x2="392.69" y2="345.8"/>
<line x1="402.05" y1="342.5" x2="402.05" y2="345.8"/>
<line x1="411.4" y1="342.5" x2="411.4" y2="345.8"/>
<line x1="420.75" y1="342.5" x2="420.75" y2="345.8"/>
<line x1="430.11" y1="342.5" x2="430.11" y2="345.8"/>
<line x1="439.46" y1="342.5" x2="439.46" y2="345.8"/>
<line x1="448.82" y1="342.5" x2="448.82" y2="345.8"/>
<line x1="458.17" y1="342.5" x2="458.17" y2="345.8"/>
<line x1="467.53" y1="342.5" x2="467.53" y2="345.8"/>
<line x1="476.88" y1="342.5" x2="476.88" y2="345.8"/>
<line x1="486.24" y1="342.5" x2="486.24" y2="345.8"/>
<line x1="495.59" y1="342.5" x2="495.59" y2="345.8"/>
<line x1="504.95" y1="342.5" x2="504.95" y2="345.8"/>
<line x1="514.3" y1="342.5" x2="514.3" y2="345.8"/>
</g>
<text x="297.1" y="345.6" font-size="8.6" text-anchor="end">0</text>
<text x="297.1" y="326.33" font-size="8.6" text-anchor="end">10</text>
<text x="297.1" y="307.06" font-size="8.6" text-anchor="end">20</text>
<text x="297.1" y="287.79" font-size="8.6" text-anchor="end">30</text>
<text x="297.1" y="268.52" font-size="8.6" text-anchor="end">40</text>
<text x="297.1" y="249.25" font-size="8.6" text-anchor="end">50</text>
<text x="297.1" y="229.98" font-size="8.6" text-anchor="end">60</text>
<text x="297.1" y="210.71" font-size="8.6" text-anchor="end">70</text>
<text x="313.8" y="353.5" font-size="8.6" text-anchor="middle">0</text>
<text x="341.15" y="353.5" font-size="8.6" text-anchor="middle">1</text>
<text x="368.5" y="353.5" font-size="8.6" text-anchor="middle">2</text>
<text x="395.85" y="353.5" font-size="8.6" text-anchor="middle">3</text>
<text x="423.2" y="353.5" font-size="8.6" text-anchor="middle">4</text>
<text x="450.55" y="353.5" font-size="8.6" text-anchor="middle">5</text>
<text x="477.9" y="353.5" font-size="8.6" text-anchor="middle">6</text>
<text x="505.25" y="353.5" font-size="8.6" text-anchor="middle">7</text>
<polyline points="313.18,302.03 322.53,266.58 331.89,244.22 341.24,231.12 350.6,224.76 359.95,225.15 369.3,232.47 378.66,242.3 388.01,252.89 397.37,262.14 406.72,271.39 416.08,280.84 425.43,289.89 434.79,296.25 444.14,301.65 453.5,305.6 462.85,309.26 472.2,312.25 481.56,313.6 490.91,314.56 500.27,314.94 509.62,315.62" fill="none" stroke="#606060" stroke-width="1"/>
<rect x="310.78" y="299.73" width="4.8" height="4.6" fill="#000"/>
<rect x="320.13" y="264.28" width="4.8" height="4.6" fill="#000"/>
<rect x="329.49" y="241.92" width="4.8" height="4.6" fill="#000"/>
<rect x="338.84" y="228.82" width="4.8" height="4.6" fill="#000"/>
<rect x="348.2" y="222.46" width="4.8" height="4.6" fill="#000"/>
<rect x="357.55" y="222.85" width="4.8" height="4.6" fill="#000"/>
<rect x="366.9" y="230.17" width="4.8" height="4.6" fill="#000"/>
<rect x="376.26" y="240" width="4.8" height="4.6" fill="#000"/>
<rect x="385.61" y="250.59" width="4.8" height="4.6" fill="#000"/>
<rect x="394.97" y="259.84" width="4.8" height="4.6" fill="#000"/>
<rect x="404.32" y="269.09" width="4.8" height="4.6" fill="#000"/>
<rect x="413.68" y="278.54" width="4.8" height="4.6" fill="#000"/>
<rect x="423.03" y="287.59" width="4.8" height="4.6" fill="#000"/>
<rect x="432.39" y="293.95" width="4.8" height="4.6" fill="#000"/>
<rect x="441.74" y="299.35" width="4.8" height="4.6" fill="#000"/>
<rect x="451.1" y="303.3" width="4.8" height="4.6" fill="#000"/>
<rect x="460.45" y="306.96" width="4.8" height="4.6" fill="#000"/>
<rect x="469.8" y="309.95" width="4.8" height="4.6" fill="#000"/>
<rect x="479.16" y="311.3" width="4.8" height="4.6" fill="#000"/>
<rect x="488.51" y="312.26" width="4.8" height="4.6" fill="#000"/>
<rect x="497.87" y="312.64" width="4.8" height="4.6" fill="#000"/>
<rect x="507.22" y="313.32" width="4.8" height="4.6" fill="#000"/>
<polyline points="313.18,302.03 322.53,271.97 331.89,248.66 341.24,236.71 350.6,233.82 359.95,238.63 369.3,248.46 378.66,258.68 388.01,270.24 397.37,281.8 406.72,292.01 416.08,301.07 425.43,307.24 434.79,312.63 444.14,316.68 453.5,319.95 462.85,321.88 472.2,323.42 481.56,324.19 490.91,325.23 500.27,325.74 509.62,325.74" fill="none" stroke="#7c7ca4" stroke-width="1"/>
<rect x="310.78" y="299.73" width="4.8" height="4.6" fill="#1c129a"/>
<rect x="320.13" y="269.67" width="4.8" height="4.6" fill="#1c129a"/>
<rect x="329.49" y="246.36" width="4.8" height="4.6" fill="#1c129a"/>
<rect x="338.84" y="234.41" width="4.8" height="4.6" fill="#1c129a"/>
<rect x="348.2" y="231.52" width="4.8" height="4.6" fill="#1c129a"/>
<rect x="357.55" y="236.33" width="4.8" height="4.6" fill="#1c129a"/>
<rect x="366.9" y="246.16" width="4.8" height="4.6" fill="#1c129a"/>
<rect x="376.26" y="256.38" width="4.8" height="4.6" fill="#1c129a"/>
<rect x="385.61" y="267.94" width="4.8" height="4.6" fill="#1c129a"/>
<rect x="394.97" y="279.5" width="4.8" height="4.6" fill="#1c129a"/>
<rect x="404.32" y="289.71" width="4.8" height="4.6" fill="#1c129a"/>
<rect x="413.68" y="298.77" width="4.8" height="4.6" fill="#1c129a"/>
<rect x="423.03" y="304.94" width="4.8" height="4.6" fill="#1c129a"/>
<rect x="432.39" y="310.33" width="4.8" height="4.6" fill="#1c129a"/>
<rect x="441.74" y="314.38" width="4.8" height="4.6" fill="#1c129a"/>
<rect x="451.1" y="317.65" width="4.8" height="4.6" fill="#1c129a"/>
<rect x="460.45" y="319.58" width="4.8" height="4.6" fill="#1c129a"/>
<rect x="469.8" y="321.12" width="4.8" height="4.6" fill="#1c129a"/>
<rect x="479.16" y="321.89" width="4.8" height="4.6" fill="#1c129a"/>
<rect x="488.51" y="322.93" width="4.8" height="4.6" fill="#1c129a"/>
<rect x="497.87" y="323.44" width="4.8" height="4.6" fill="#1c129a"/>
<rect x="507.22" y="323.44" width="4.8" height="4.6" fill="#1c129a"/>
<polyline points="313.18,302.03 322.53,269.27 331.89,244.8 341.24,234.01 350.6,231.12 359.95,235.55 369.3,246.92 378.66,256.75 388.01,268.31 397.37,279.68 406.72,289.89 416.08,299.14 425.43,304.54 434.79,309.74 444.14,313.6 453.5,316.39 462.85,318.8 472.2,319.47 481.56,320.34 490.91,320.53 500.27,320.92 509.62,321.3" fill="none" stroke="#b88088" stroke-width="1"/>
<rect x="310.78" y="299.73" width="4.8" height="4.6" fill="#da0c20"/>
<rect x="320.13" y="266.97" width="4.8" height="4.6" fill="#da0c20"/>
<rect x="329.49" y="242.5" width="4.8" height="4.6" fill="#da0c20"/>
<rect x="338.84" y="231.71" width="4.8" height="4.6" fill="#da0c20"/>
<rect x="348.2" y="228.82" width="4.8" height="4.6" fill="#da0c20"/>
<rect x="357.55" y="233.25" width="4.8" height="4.6" fill="#da0c20"/>
<rect x="366.9" y="244.62" width="4.8" height="4.6" fill="#da0c20"/>
<rect x="376.26" y="254.45" width="4.8" height="4.6" fill="#da0c20"/>
<rect x="385.61" y="266.01" width="4.8" height="4.6" fill="#da0c20"/>
<rect x="394.97" y="277.38" width="4.8" height="4.6" fill="#da0c20"/>
<rect x="404.32" y="287.59" width="4.8" height="4.6" fill="#da0c20"/>
<rect x="413.68" y="296.84" width="4.8" height="4.6" fill="#da0c20"/>
<rect x="423.03" y="302.24" width="4.8" height="4.6" fill="#da0c20"/>
<rect x="432.39" y="307.44" width="4.8" height="4.6" fill="#da0c20"/>
<rect x="441.74" y="311.3" width="4.8" height="4.6" fill="#da0c20"/>
<rect x="451.1" y="314.09" width="4.8" height="4.6" fill="#da0c20"/>
<rect x="460.45" y="316.5" width="4.8" height="4.6" fill="#da0c20"/>
<rect x="469.8" y="317.17" width="4.8" height="4.6" fill="#da0c20"/>
<rect x="479.16" y="318.04" width="4.8" height="4.6" fill="#da0c20"/>
<rect x="488.51" y="318.23" width="4.8" height="4.6" fill="#da0c20"/>
<rect x="497.87" y="318.62" width="4.8" height="4.6" fill="#da0c20"/>
<rect x="507.22" y="319" width="4.8" height="4.6" fill="#da0c20"/>
<text transform="translate(267.3 274.5) rotate(-90)" font-size="9.7" text-anchor="middle">Chemiluminescence</text>
<text transform="translate(278.6 270.7) rotate(-90)" font-size="9.8" text-anchor="middle">(cpmx 10<tspan font-size="6" dy="-3.5">6</tspan><tspan dy="3.5">)</tspan></text>
<text x="377.9" y="366.9" font-size="9.7">Time (Min)</text>
</svg>
</body></html>
